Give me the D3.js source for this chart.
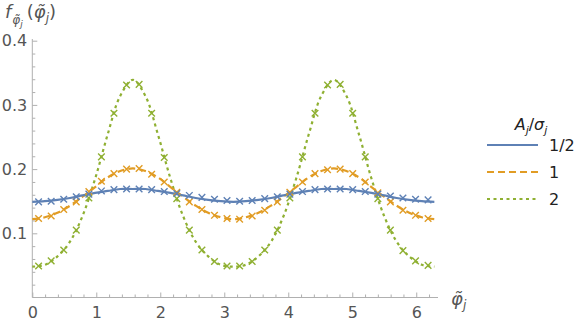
<!DOCTYPE html>
<html><head><meta charset="utf-8">
<script src="https://cdn.jsdelivr.net/npm/d3@7"></script>
<style>
html,body{margin:0;padding:0;background:#fff;}
svg{display:block;font-family:"DejaVu Sans",sans-serif;}
</style></head>
<body><svg id="c" width="581" height="327"></svg>
<script>
// ---- data ----
const seriesNames = ["1/2", "1", "2"];
const curveX = [0, 0.196, 0.393, 0.589, 0.785, 0.982, 1.178, 1.374, 1.571, 1.767, 1.963, 2.160, 2.356, 2.553, 2.749, 2.945, 3.142, 3.338, 3.534, 3.731, 3.927, 4.123, 4.320, 4.516, 4.712, 4.909, 5.105, 5.301, 5.498, 5.694, 5.890, 6.087, 6.283];
const curveHalf = [0.149,0.150,0.152,0.155,0.159,0.163,0.166,0.169,0.169,0.169,0.166,0.163,0.159,0.155,0.152,0.150,0.149,0.150,0.152,0.155,0.159,0.163,0.166,0.169,0.169,0.169,0.166,0.163,0.159,0.155,0.152,0.150,0.149];
const curveOne = [0.122,0.125,0.132,0.143,0.157,0.172,0.187,0.197,0.201,0.197,0.187,0.172,0.157,0.143,0.132,0.125,0.122,0.125,0.132,0.143,0.157,0.172,0.187,0.197,0.201,0.197,0.187,0.172,0.157,0.143,0.132,0.125,0.122];
const curveTwo = [0.048,0.051,0.064,0.087,0.127,0.185,0.254,0.314,0.339,0.314,0.254,0.185,0.127,0.087,0.064,0.051,0.048,0.051,0.064,0.087,0.127,0.185,0.254,0.314,0.339,0.314,0.254,0.185,0.127,0.087,0.064,0.051,0.048];
const markX = [0.098, 0.295, 0.491, 0.687, 0.884, 1.080, 1.276, 1.473, 1.669, 1.865, 2.062, 2.258, 2.454, 2.651, 2.847, 3.043, 3.240, 3.436, 3.632, 3.829, 4.025, 4.222, 4.418, 4.614, 4.811, 5.007, 5.203, 5.400, 5.596, 5.792, 5.989, 6.185];
const markHalf = [0.149,0.150,0.153,0.157,0.161,0.166,0.168,0.169,0.169,0.168,0.165,0.162,0.159,0.156,0.153,0.151,0.150,0.151,0.154,0.157,0.161,0.165,0.168,0.169,0.169,0.168,0.165,0.161,0.158,0.155,0.153,0.152];
const markOne = [0.123,0.127,0.137,0.149,0.165,0.181,0.193,0.200,0.201,0.192,0.180,0.164,0.149,0.137,0.128,0.123,0.122,0.127,0.136,0.149,0.164,0.180,0.193,0.199,0.200,0.193,0.180,0.163,0.149,0.136,0.128,0.123];
const markTwo = [0.049,0.057,0.074,0.105,0.155,0.219,0.287,0.331,0.332,0.287,0.218,0.154,0.105,0.074,0.056,0.049,0.049,0.056,0.074,0.105,0.155,0.219,0.287,0.331,0.332,0.287,0.219,0.154,0.105,0.073,0.057,0.050];
const xTicks = [0,1,2,3,4,5,6];
const yTicks = [0.1,0.2,0.3,0.4];
const colors = ["#5E81B5", "#E19C24", "#8FB032"];
const dashes = [null, "7,4", "3,3.5"];

// ---- layout ----
const svg = d3.select("#c");
const x = d3.scaleLinear().domain([0, 6.34]).range([32.3, 438]);
const y = d3.scaleLinear().domain([0, 0.4]).range([297.5, 40.7]);
const axisColor = "#b0b0b0";
const labelColor = "#555";

// minor ticks
const xMinor = d3.range(0.2, 6.3, 0.2).filter(v => Math.abs(v - Math.round(v)) > 0.01);
const yMinor = d3.range(0.02, 0.39, 0.02).filter(v => Math.abs(v*10 - Math.round(v*10)) > 0.01);

const gx = svg.append("g").attr("transform", `translate(0,${y(0)})`);
gx.call(d3.axisBottom(x).tickValues(xTicks).tickSizeInner(-5).tickSizeOuter(0).tickPadding(9).tickFormat(d3.format("d")));
const gxm = svg.append("g").attr("transform", `translate(0,${y(0)})`);
gxm.call(d3.axisBottom(x).tickValues(xMinor).tickSizeInner(-3).tickSizeOuter(0).tickFormat(""));
gxm.select(".domain").remove();

const gy = svg.append("g").attr("transform", `translate(${x(0)},0)`);
gy.call(d3.axisLeft(y).tickValues(yTicks).tickSizeInner(-5).tickSizeOuter(0).tickPadding(5).tickFormat(d3.format(".1f")));
gy.select(".domain").attr("d", `M0,${y(0)}V39`);
const gym = svg.append("g").attr("transform", `translate(${x(0)},0)`);
gym.call(d3.axisLeft(y).tickValues(yMinor).tickSizeInner(-3).tickSizeOuter(0).tickFormat(""));
gym.select(".domain").remove();

svg.selectAll(".domain").attr("stroke", axisColor).attr("stroke-width", 1);
svg.selectAll(".tick line").attr("stroke", axisColor).attr("stroke-width", 1);
svg.selectAll(".tick text").attr("fill", labelColor).style("font-size", "16px").style("font-family", "DejaVu Sans, sans-serif");
gx.select(".domain").attr("d", `M${x(0)},0H438`);

// curves
const curves = [curveHalf, curveOne, curveTwo];
const marks = [markHalf, markOne, markTwo];
const line = d3.line().x(d => x(d[0])).y(d => y(d[1])).curve(d3.curveCatmullRom);
const order = [2, 1, 0];
order.forEach(i => {
  const pts = curveX.map((v, k) => [v, curves[i][k]]);
  svg.append("path").attr("d", line(pts)).attr("fill", "none")
    .attr("stroke", colors[i]).attr("stroke-width", 2.2)
    .attr("stroke-dasharray", dashes[i]);
});
// markers
const s = 3.3;
order.forEach(i => {
  svg.append("g").selectAll("path").data(markX.map((v, k) => [v, marks[i][k]])).join("path")
    .attr("d", d => { const cx = x(d[0]), cy = y(d[1]); return `M${cx-s},${cy-s}L${cx+s},${cy+s}M${cx-s},${cy+s}L${cx+s},${cy-s}`; })
    .attr("stroke", colors[i]).attr("stroke-width", 1.4).attr("fill", "none");
});

// axis labels
const yl = svg.append("text").attr("x", 5).attr("y", 18).attr("fill", labelColor).style("font-size", "18px");
yl.append("tspan").text("f").style("font-style", "italic");
yl.append("tspan").attr("dy", 6).attr("dx", 1).style("font-size", "12px").style("font-style", "italic").text("φ\u0303");
yl.append("tspan").attr("dy", 3).style("font-size", "9px").style("font-style", "italic").text("j");
yl.append("tspan").attr("dy", -9).attr("dx", 4).text("(");
yl.append("tspan").style("font-style", "italic").text("φ\u0303");
yl.append("tspan").attr("dy", 4).style("font-size", "12px").style("font-style", "italic").text("j");
yl.append("tspan").attr("dy", -4).text(")");

const xl = svg.append("text").attr("x", 451).attr("y", 305).attr("fill", labelColor).style("font-size", "18px");
xl.append("tspan").style("font-style", "italic").text("φ\u0303");
xl.append("tspan").attr("dy", 4).style("font-size", "12px").style("font-style", "italic").text("j");

// legend
const lg = svg.append("g");
const lt = lg.append("text").attr("x", 531).attr("y", 130).attr("text-anchor", "middle").attr("fill", "#222").style("font-size", "16px");
lt.append("tspan").style("font-style", "italic").text("A");
lt.append("tspan").attr("dy", 4).style("font-size", "11px").style("font-style", "italic").text("j");
lt.append("tspan").attr("dy", -4).text("/");
lt.append("tspan").style("font-style", "italic").text("σ");
lt.append("tspan").attr("dy", 4).style("font-size", "11px").style("font-style", "italic").text("j");
const ly = [145, 172, 199];
seriesNames.forEach((n, i) => {
  lg.append("line").attr("x1", 487).attr("x2", 538).attr("y1", ly[i]).attr("y2", ly[i])
    .attr("stroke", colors[i]).attr("stroke-width", 2.2).attr("stroke-dasharray", dashes[i]);
  lg.append("text").attr("x", 549).attr("y", ly[i]).attr("dy", "0.35em").attr("fill", "#222")
    .style("font-size", "16px").text(n);
});
</script>
</body></html>
